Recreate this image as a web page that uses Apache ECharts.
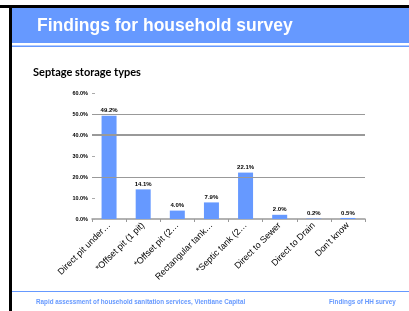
<!DOCTYPE html>
<html>
<head>
<meta charset="utf-8">
<script src="https://cdn.jsdelivr.net/npm/echarts@6/dist/echarts.min.js"></script>
<style>
  html, body { margin: 0; padding: 0; background: #fff; }
  #main { width: 409px; height: 311px; }
</style>
</head>
<body>
<div id="main"></div>
<script>
// chart data
const categories = [
  'Direct pit under…',
  '*Offset pit (1 pit)',
  '*Offset pit (2…',
  'Rectangular tank…',
  '*Septic tank (2…',
  'Direct to Sewer',
  'Direct to Drain',
  "Don't know"
];
const shares = [49.2, 14.1, 4.0, 7.9, 22.1, 2.0, 0.2, 0.5];
const gridLevels = [50, 40, 20];

const blue = '#6699ff';
const chart = echarts.init(document.getElementById('main'), null, { renderer: 'canvas' });

chart.setOption({
  animation: false,
  title: [
    {
      text: 'Findings for household survey',
      left: 37, top: 17, padding: 0,
      textStyle: { color: '#fff', fontSize: 17.5, fontWeight: 'bold', fontFamily: 'Liberation Sans' }
    },
    {
      text: 'Septage storage types',
      left: 33, top: 67, padding: 0,
      textStyle: { color: '#000', fontSize: 11, fontWeight: 'bold', fontFamily: 'Lato' }
    },
    {
      text: 'Rapid assessment of household sanitation services, Vientiane Capital',
      left: 36, top: 299, padding: 0,
      textStyle: { color: blue, fontSize: 6.3, fontWeight: 'bold', fontFamily: 'Liberation Sans' }
    },
    {
      text: 'Findings of HH survey',
      left: 329, top: 299, padding: 0,
      textStyle: { color: blue, fontSize: 6.3, fontWeight: 'bold', fontFamily: 'Liberation Sans' }
    }
  ],
  graphic: [
    // slide frame
    { type: 'rect', shape: { x: 0, y: 5, width: 409, height: 3 }, style: { fill: '#000' }, z: 0 },
    { type: 'rect', shape: { x: 9, y: 5, width: 3, height: 306 }, style: { fill: '#000' }, z: 0 },
    // header band
    { type: 'rect', shape: { x: 12, y: 8, width: 397, height: 35 }, style: { fill: blue }, z: 0 },
    { type: 'rect', shape: { x: 12, y: 45.5, width: 397, height: 1.5 }, style: { fill: blue }, z: 0 },
    // footer line
    { type: 'rect', shape: { x: 12, y: 291, width: 397, height: 1 }, style: { fill: blue }, z: 0 }
  ],
  grid: { left: 92, right: 44, top: 93, bottom: 92 },
  xAxis: {
    type: 'category',
    data: categories,
    axisLine: { lineStyle: { color: '#999', width: 1.5 } },
    axisTick: { show: true, length: 3, lineStyle: { color: '#999' } },
    axisLabel: {
      rotate: 45, interval: 0, margin: 5,
      color: '#000', fontSize: 9, fontFamily: 'Liberation Sans'
    }
  },
  yAxis: {
    type: 'value',
    min: 0, max: 60, interval: 10,
    axisLine: { show: false },
    axisTick: { show: true, inside: true, length: 3, lineStyle: { color: '#aaa' } },
    splitLine: { show: false },
    axisLabel: {
      formatter: v => v.toFixed(1) + '%',
      margin: 4, color: '#000', fontSize: 5.5, fontWeight: 'bold', fontFamily: 'Liberation Sans'
    }
  },
  series: [
    {
      type: 'bar',
      data: shares,
      barWidth: 15,
      itemStyle: { color: blue },
      label: {
        show: true, position: 'top', distance: 2,
        formatter: p => p.value.toFixed(1) + '%',
        color: '#000', fontSize: 6, fontWeight: 'bold', fontFamily: 'Liberation Sans'
      },
      markLine: {
        silent: true, symbol: 'none', label: { show: false },
        lineStyle: { color: '#999', type: 'solid', width: 1 },
        data: gridLevels.map(v => ({ yAxis: v, lineStyle: { width: v === 40 ? 2 : 1 } }))
      },
      z: 3
    }
  ]
});
</script>
</body>
</html>
